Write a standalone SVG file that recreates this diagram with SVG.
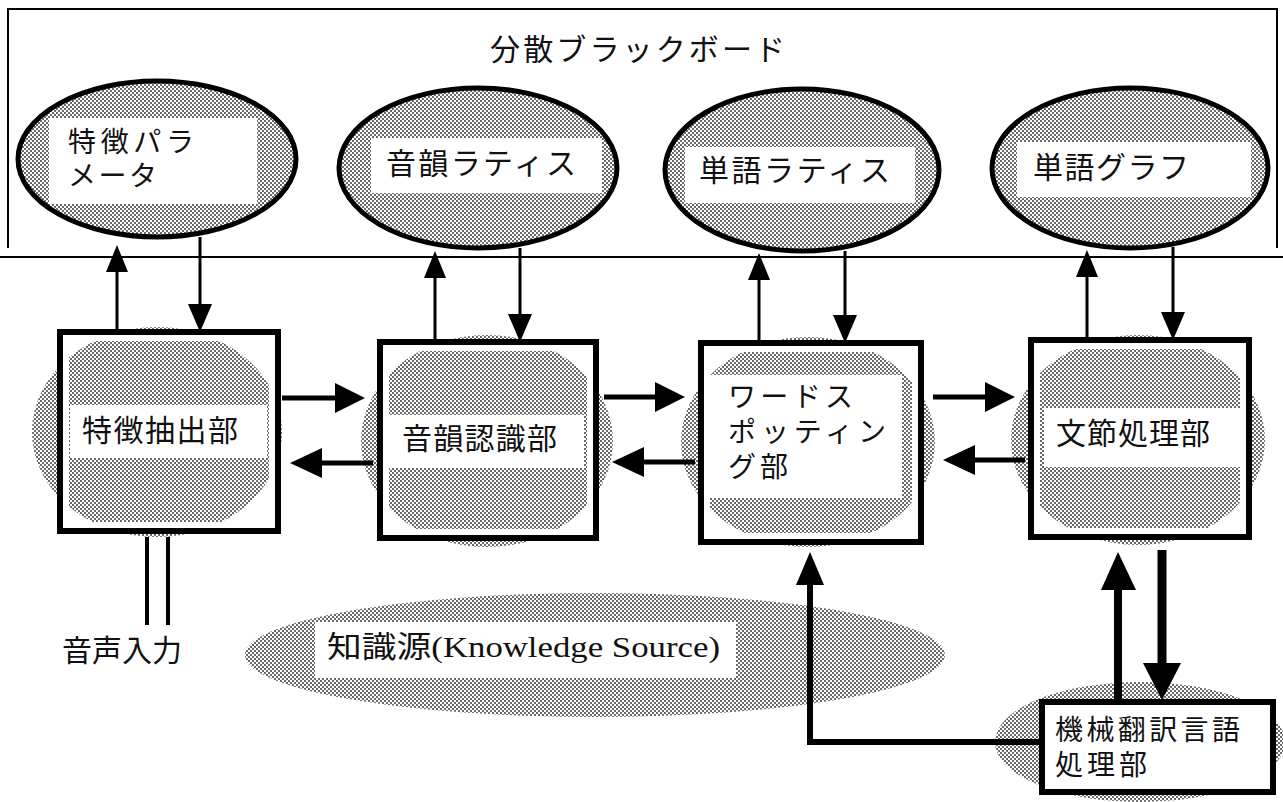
<svg xmlns="http://www.w3.org/2000/svg" width="1283" height="802" viewBox="0 0 1283 802">
<defs>
<pattern id="dots" patternUnits="userSpaceOnUse" width="4" height="4">
<rect width="4" height="4" fill="#ffffff"/>
<rect x="0" y="0" width="2" height="2" fill="#6a6a6a"/>
<rect x="2" y="2" width="2" height="2" fill="#6a6a6a"/>
</pattern>
<style>
.jp{font-family:"Noto Sans CJK JP",sans-serif;font-size:30px;fill:#111;}
.jp2{font-family:"Noto Sans CJK JP",sans-serif;font-size:28px;fill:#111;}
.ks{font-family:"Liberation Serif","Noto Sans CJK JP",serif;font-size:30px;fill:#111;}
.ell{fill:url(#dots);stroke:#000;stroke-width:5;}
.blob{fill:url(#dots);stroke:none;}
.lab{fill:#fff;stroke:none;}
.box{fill:none;stroke:#000;stroke-width:6;}
.inner{fill:none;stroke:#fff;stroke-width:6;}
.thin{stroke:#000;stroke-width:3;fill:none;}
.thick{stroke:#000;stroke-width:5;fill:none;}
.head{fill:#000;}
.frame{stroke:#000;stroke-width:2;fill:none;}
</style>
</defs>
<rect width="1283" height="802" fill="#fff"/>
<g id="blackboard">
<path class="frame" d="M8,248 V9 H1277 V248"/>
<line class="frame" x1="0" y1="257" x2="1283" y2="257"/>
<text class="jp" x="490" y="60" font-size="28" textLength="295" lengthAdjust="spacing">分散ブラックボード</text>
</g>
<g id="n_param">
<ellipse class="ell" cx="157" cy="159" rx="139" ry="78"/>
<rect class="lab" x="49" y="118" width="208" height="86"/>
<text class="jp2"><tspan x="68" y="152" textLength="126" lengthAdjust="spacing">特徴パラ</tspan><tspan x="68" y="186" textLength="89" lengthAdjust="spacing">メータ</tspan></text>
</g>
<g id="n_phon_lat">
<ellipse class="ell" cx="478" cy="168" rx="139" ry="80"/>
<rect class="lab" x="371" y="138" width="231" height="55"/>
<text class="jp" x="386" y="174" textLength="190" lengthAdjust="spacing">音韻ラティス</text>
</g>
<g id="n_word_lat">
<ellipse class="ell" cx="802" cy="170" rx="137" ry="81"/>
<rect class="lab" x="685" y="147" width="230" height="56"/>
<text class="jp" x="699" y="181" textLength="191" lengthAdjust="spacing">単語ラティス</text>
</g>
<g id="n_word_graph">
<ellipse class="ell" cx="1130" cy="168" rx="138" ry="80"/>
<rect class="lab" x="1017" y="142" width="234" height="55"/>
<text class="jp" x="1033" y="178" textLength="156" lengthAdjust="spacing">単語グラフ</text>
</g>
<g id="n_feat">
<ellipse class="blob" cx="157" cy="432" rx="125" ry="105"/>
<rect class="inner" x="66" y="338" width="206" height="187"/>
<rect class="box" x="60" y="332" width="218" height="199"/>
<rect class="lab" x="70" y="405" width="197" height="53"/>
<text class="jp" x="82" y="441" textLength="156" lengthAdjust="spacing">特徴抽出部</text>
</g>
<g id="n_phon">
<ellipse class="blob" cx="487" cy="441" rx="126" ry="106"/>
<rect class="inner" x="386" y="348" width="204" height="184"/>
<rect class="box" x="380" y="342" width="216" height="196"/>
<rect class="lab" x="388" y="415" width="196" height="53"/>
<text class="jp" x="402" y="449" textLength="155" lengthAdjust="spacing">音韻認識部</text>
</g>
<g id="n_spot">
<ellipse class="blob" cx="808" cy="442" rx="127" ry="105"/>
<rect class="inner" x="707" y="349" width="208" height="187"/>
<rect class="box" x="701" y="343" width="220" height="199"/>
<rect class="lab" x="710" y="375" width="192" height="123"/>
<text class="jp2"><tspan x="728" y="407" textLength="125" lengthAdjust="spacing">ワードス</tspan><tspan x="728" y="442" textLength="158" lengthAdjust="spacing">ポッティン</tspan><tspan x="728" y="477" textLength="60" lengthAdjust="spacing">グ部</tspan></text>
</g>
<g id="n_phrase">
<ellipse class="blob" cx="1138" cy="440" rx="127" ry="105"/>
<rect class="inner" x="1037" y="346" width="206" height="185"/>
<rect class="box" x="1031" y="340" width="218" height="197"/>
<rect class="lab" x="1044" y="408" width="196" height="59"/>
<text class="jp" x="1056" y="444" textLength="154" lengthAdjust="spacing">文節処理部</text>
</g>
<g id="n_mt">
<ellipse class="blob" cx="1140" cy="742" rx="145" ry="60"/>
<rect x="1042" y="702" width="231" height="90" fill="#fff" stroke="#000" stroke-width="6"/>
<text class="jp2"><tspan x="1055" y="740" textLength="185" lengthAdjust="spacing">機械翻訳言語</tspan><tspan x="1055" y="775" textLength="92" lengthAdjust="spacing">処理部</tspan></text>
</g>
<g id="n_ks">
<ellipse class="blob" cx="595" cy="655" rx="350" ry="62"/>
<rect class="lab" x="315" y="622" width="421" height="56"/>
<text class="ks" x="327" y="657" textLength="393" lengthAdjust="spacingAndGlyphs">知識源(Knowledge Source)</text>
</g>
<g id="n_input">
<text class="jp" x="62" y="661" font-size="28" textLength="120" lengthAdjust="spacing">音声入力</text>
</g>
<g id="connectors">
<line class="thin" x1="117" y1="332" x2="117" y2="268"/>
<polygon class="head" points="117,245 106,272 128,272"/>
<line class="thin" x1="200" y1="237" x2="200" y2="308"/>
<polygon class="head" points="200,332 188,304 212,304"/>
<line class="thin" x1="435" y1="342" x2="435" y2="274"/>
<polygon class="head" points="435,251 424,278 446,278"/>
<line class="thin" x1="520" y1="248" x2="520" y2="318"/>
<polygon class="head" points="520,342 508,314 532,314"/>
<line class="thin" x1="759" y1="343" x2="759" y2="276"/>
<polygon class="head" points="759,253 748,280 770,280"/>
<line class="thin" x1="845" y1="251" x2="845" y2="319"/>
<polygon class="head" points="845,343 833,315 857,315"/>
<line class="thin" x1="1087" y1="340" x2="1087" y2="273"/>
<polygon class="head" points="1087,250 1076,277 1098,277"/>
<line class="thin" x1="1173" y1="247" x2="1173" y2="316"/>
<polygon class="head" points="1173,340 1161,312 1185,312"/>
<line class="thick" x1="282" y1="398" x2="338" y2="398"/>
<polygon class="head" points="365,398 335,383 335,413"/>
<line class="thick" x1="373" y1="463" x2="318" y2="463"/>
<polygon class="head" points="290,463 322,448 322,478"/>
<line class="thick" x1="604" y1="397" x2="658" y2="397"/>
<polygon class="head" points="685,397 655,382 655,412"/>
<line class="thick" x1="695" y1="462" x2="640" y2="462"/>
<polygon class="head" points="612,462 644,447 644,477"/>
<line class="thick" x1="933" y1="397" x2="988" y2="397"/>
<polygon class="head" points="1015,397 985,382 985,412"/>
<line class="thick" x1="1025" y1="460" x2="971" y2="460"/>
<polygon class="head" points="943,460 975,445 975,475"/>
<path d="M1042,742 H810 V580" stroke="#000" stroke-width="6" fill="none"/>
<polygon class="head" points="810,552 796,585 824,585"/>
<line x1="1118" y1="702" x2="1118" y2="585" stroke="#000" stroke-width="8"/>
<polygon class="head" points="1118,552 1101,590 1136,590"/>
<line x1="1162" y1="550" x2="1162" y2="666" stroke="#000" stroke-width="9"/>
<polygon class="head" points="1162,700 1143,663 1181,663"/>
<line x1="147" y1="537" x2="147" y2="625" stroke="#000" stroke-width="4"/>
<line x1="168" y1="537" x2="168" y2="625" stroke="#000" stroke-width="4"/>
</g>
</svg>
